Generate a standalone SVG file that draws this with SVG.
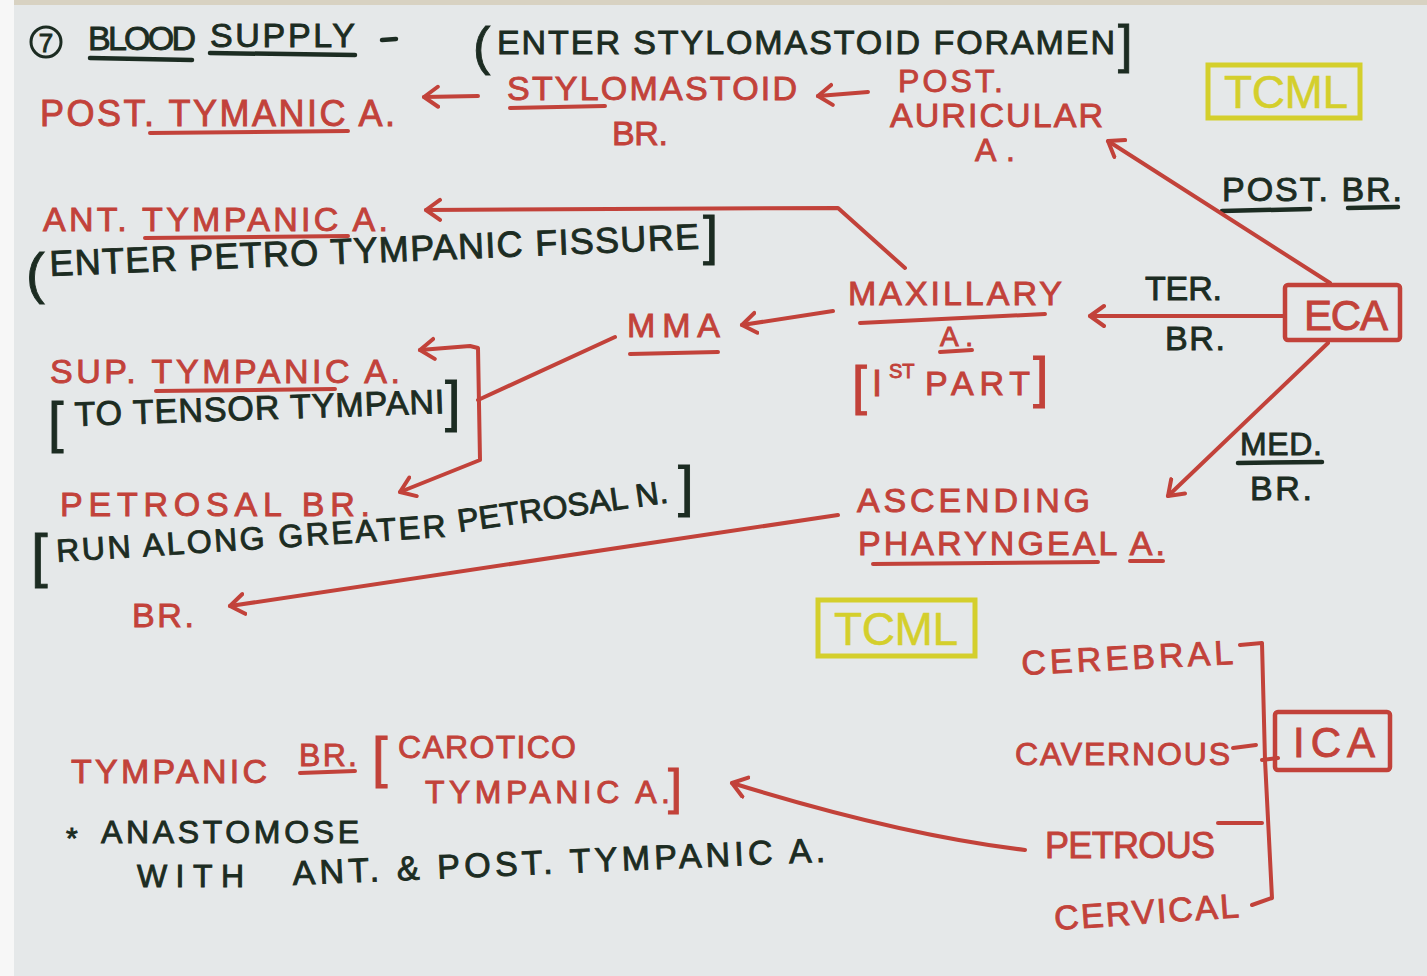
<svg xmlns="http://www.w3.org/2000/svg" width="1427" height="976" viewBox="0 0 1427 976">
<style>
text{font-family:"Liberation Sans",Arial,sans-serif;}
.r{fill:#c2423a;stroke:#c2423a;stroke-width:0.9;}
.k{fill:#1c2c22;stroke:#1c2c22;stroke-width:0.9;}
.y{fill:#d4cf2c;stroke:#d4cf2c;stroke-width:0.5;}
.rl{fill:none;stroke:#c2423a;stroke-width:4;stroke-linecap:round;stroke-linejoin:round;}
.kl{fill:none;stroke:#1c2c22;stroke-width:4.5;stroke-linecap:round;}
.yb{fill:none;stroke:#d4cf2c;stroke-width:5;}
.rb{fill:none;stroke:#c2423a;stroke-width:4.5;}
.arr{marker-end:url(#ah);}
</style>
<defs>
<marker id="ah" markerUnits="userSpaceOnUse" markerWidth="30" markerHeight="30" refX="16" refY="12" orient="auto-start-reverse">
<path d="M2,2 L16,12 L2,22" fill="none" stroke="#c2423a" stroke-width="4" stroke-linecap="round" stroke-linejoin="round"/>
</marker>
</defs>
<rect x="0" y="0" width="1427" height="976" fill="#e5e8e9"/>
<rect x="0" y="0" width="14" height="976" fill="#f7f7f7"/>
<rect x="14" y="0" width="1413" height="5" fill="#d8d2c2"/>

<g id="title">
<circle cx="46" cy="42" r="15" fill="none" stroke="#1c2c22" stroke-width="3"/>
<text class="k" x="46" y="52" font-size="26" text-anchor="middle">7</text>
<text class="k" x="88" y="50" font-size="34" textLength="108">BLOOD</text>
<path class="kl" d="M90,58 L192,60"/>
<text class="k" x="210" y="47" font-size="34" textLength="145">SUPPLY</text>
<path class="kl" d="M210,53 L355,55"/>
<path class="kl" d="M382,40 L396,39"/>
</g>

<g id="note-stylomastoid-foramen">
<text class="k" x="473" y="64" font-size="52">(</text>
<text class="k" x="497" y="54" font-size="34" textLength="618">ENTER STYLOMASTOID FORAMEN</text>
<text class="k" x="1118" y="62" font-size="52">]</text>
</g>

<g id="node-post-tympanic">
<text class="r" x="40" y="126" font-size="36" textLength="355">POST. TYMANIC A.</text>
<path class="rl" d="M150,133 L348,131"/>
</g>

<g id="node-stylomastoid-br">
<text class="r" x="507" y="100" font-size="34" textLength="290">STYLOMASTOID</text>
<path class="rl" d="M510,108 L605,106"/>
<text class="r" x="612" y="145" font-size="34" textLength="56">BR.</text>
</g>

<g id="node-post-auricular">
<text class="r" x="898" y="92" font-size="32" textLength="105">POST.</text>
<text class="r" x="890" y="127" font-size="34" textLength="213">AURICULAR</text>
<text class="r" x="975" y="161" font-size="32" textLength="40">A.</text>
</g>

<g id="tcml-1">
<rect class="yb" x="1208" y="65" width="152" height="53"/>
<text class="y" x="1224" y="108" font-size="46" textLength="124">TCML</text>
</g>

<g id="label-post-br">
<text class="k" x="1222" y="201" font-size="34" textLength="180">POST. BR.</text>
<path class="kl" d="M1222,211 L1310,209"/>
<path class="kl" d="M1348,208 L1398,207"/>
</g>

<g id="node-ant-tympanic">
<text class="r" x="43" y="231" font-size="34" textLength="345">ANT. TYMPANIC A.</text>
<path class="rl" d="M145,238 L348,236"/>
<text class="k" x="26" y="292" font-size="56">(</text>
<text class="k" x="50" y="276" font-size="36" textLength="650" transform="rotate(-2.4 50 276)">ENTER PETRO TYMPANIC FISSURE</text>
<text class="k" x="703" y="254" font-size="54">]</text>
</g>

<g id="node-maxillary">
<text class="r" x="848" y="305" font-size="34" textLength="214">MAXILLARY</text>
<path class="rl" d="M860,323 L1045,314"/>
<text class="r" x="940" y="346" font-size="28" textLength="33">A.</text>
<path class="rl" d="M940,352 L972,350"/>
<text class="r" x="852" y="404" font-size="54">[</text>
<text class="r" x="872" y="396" font-size="36">I</text>
<text class="r" x="889" y="378" font-size="20">ST</text>
<text class="r" x="925" y="395" font-size="34" textLength="105">PART</text>
<text class="r" x="1033" y="396" font-size="56">]</text>
</g>

<g id="label-ter-br">
<text class="k" x="1145" y="300" font-size="34" textLength="77">TER.</text>
<text class="k" x="1165" y="350" font-size="34" textLength="60">BR.</text>
</g>

<g id="node-eca">
<rect class="rb" x="1285" y="285" width="115" height="55" rx="3"/>
<text class="r" x="1304" y="330" font-size="42" textLength="84">ECA</text>
</g>

<g id="node-mma">
<text class="r" x="627" y="337" font-size="34" textLength="93">MMA</text>
<path class="rl" d="M630,354 L718,352"/>
</g>

<g id="node-sup-tympanic">
<text class="r" x="50" y="383" font-size="34" textLength="350">SUP. TYMPANIC A.</text>
<path class="rl" d="M156,391 L335,389"/>
<text class="k" x="48" y="441" font-size="56">[</text>
<text class="k" x="75" y="426" font-size="34" textLength="370" transform="rotate(-2 75 426)">TO TENSOR TYMPANI</text>
<text class="k" x="445" y="420" font-size="56">]</text>
</g>

<g id="node-petrosal-br">
<text class="r" x="60" y="516" font-size="34" textLength="310">PETROSAL BR.</text>
<text class="k" x="31" y="576" font-size="60">[</text>
<text class="k" x="57" y="562" font-size="32" textLength="390" transform="rotate(-3.7 57 562)">RUN ALONG GREATER</text>
<text class="k" x="459" y="532" font-size="32" textLength="212" transform="rotate(-8 459 532)">PETROSAL N.</text>
<text class="k" x="678" y="505" font-size="56">]</text>
</g>

<g id="node-br">
<text class="r" x="132" y="627" font-size="34" textLength="62">BR.</text>
</g>

<g id="label-med-br">
<text class="k" x="1240" y="455" font-size="32" textLength="82">MED.</text>
<path class="kl" d="M1238,463 L1322,462"/>
<text class="k" x="1250" y="500" font-size="34" textLength="62">BR.</text>
</g>

<g id="node-ascending-pharyngeal">
<text class="r" x="857" y="512" font-size="34" textLength="233">ASCENDING</text>
<text class="r" x="858" y="555" font-size="34" textLength="307">PHARYNGEAL A.</text>
<path class="rl" d="M873,564 L1098,562"/>
<path class="rl" d="M1130,561 L1163,561"/>
</g>

<g id="tcml-2">
<rect class="yb" x="818" y="600" width="157" height="56"/>
<text class="y" x="834" y="645" font-size="46" textLength="124">TCML</text>
</g>

<g id="node-ica">
<rect class="rb" x="1275" y="712" width="115" height="58" rx="3"/>
<text class="r" x="1293" y="757" font-size="42" textLength="82">ICA</text>
<text class="r" x="1022" y="675" font-size="34" textLength="212" transform="rotate(-3 1022 675)">CEREBRAL</text>
<text class="r" x="1015" y="765" font-size="32" textLength="215">CAVERNOUS</text>
<text class="r" x="1045" y="858" font-size="36" textLength="170">PETROUS</text>
<text class="r" x="1055" y="930" font-size="34" textLength="185" transform="rotate(-4 1055 930)">CERVICAL</text>
</g>

<g id="node-tympanic-br">
<text class="r" x="71" y="783" font-size="34" textLength="196">TYMPANIC</text>
<text class="r" x="299" y="766" font-size="32" textLength="58">BR.</text>
<path class="rl" d="M300,773 L355,771"/>
<text class="r" x="372" y="776" font-size="56">[</text>
<text class="r" x="398" y="758" font-size="32" textLength="178">CAROTICO</text>
<text class="r" x="425" y="803" font-size="32" textLength="245">TYMPANIC A.</text>
<text class="r" x="668" y="804" font-size="50">]</text>
</g>

<g id="note-anastomose">
<text class="k" x="66" y="848" font-size="30">*</text>
<text class="k" x="101" y="843" font-size="32" textLength="258">ANASTOMOSE</text>
<text class="k" x="137" y="887" font-size="32" textLength="107">WITH</text>
<text class="k" x="293" y="885" font-size="34" textLength="533" transform="rotate(-2.5 293 885)">ANT. &amp; POST. TYMPANIC A.</text>
</g>

<g id="connectors">
<path class="rl arr" d="M478,96 L424,97"/>
<path class="rl arr" d="M868,92 L818,96"/>
<path class="rl arr" d="M1330,283 L1108,141"/>
<path class="rl arr" d="M905,268 L838,208 L426,210"/>
<path class="rl arr" d="M1285,316 L1090,316"/>
<path class="rl arr" d="M833,311 L742,325"/>
<path class="rl" d="M615,337 L478,400"/>
<path class="rl arr" style="marker-start:url(#ah)" d="M420,350 L470,346 L478,348 L480,460 L400,492"/>
<path class="rl arr" d="M838,515 L230,606"/>
<path class="rl arr" d="M1328,343 L1168,496"/>
<path class="rl arr" d="M1025,850 Q900,835 732,783"/>
<path class="rl" d="M1240,645 L1262,643 L1265,760 L1272,898 L1252,905"/>
<path class="rl" d="M1233,748 L1256,745"/>
<path class="rl" d="M1218,823 L1262,823"/>
<path class="rl" d="M1262,760 L1278,758"/>
</g>
</svg>
